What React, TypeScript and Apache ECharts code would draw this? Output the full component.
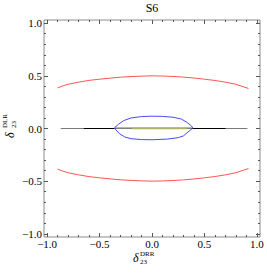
import React, { useEffect, useRef } from "react";
import * as echarts from "echarts";

const majorTicks = [-1, -0.5, 0, 0.5, 1];
const minorTicks = [-0.9, -0.8, -0.7, -0.6, -0.4, -0.3, -0.2, -0.1, 0.1, 0.2, 0.3, 0.4, 0.6, 0.7, 0.8, 0.9];

const redX = [-0.9, -0.85, -0.8, -0.7, -0.6, -0.5, -0.4, -0.3, -0.2, -0.1, 0, 0.1, 0.2, 0.3, 0.4, 0.5, 0.6, 0.7, 0.8, 0.85, 0.92];
const redUpperY = [0.385, 0.405, 0.42, 0.44, 0.457, 0.468, 0.478, 0.487, 0.493, 0.497, 0.5, 0.498, 0.494, 0.488, 0.479, 0.468, 0.456, 0.44, 0.42, 0.403, 0.38];
const redLowerY = [-0.385, -0.405, -0.42, -0.44, -0.457, -0.468, -0.478, -0.487, -0.493, -0.497, -0.5, -0.498, -0.494, -0.488, -0.479, -0.468, -0.456, -0.44, -0.42, -0.403, -0.38];

const blueX = [-0.36, -0.32, -0.27, -0.2, -0.1, 0, 0.1, 0.2, 0.28, 0.33, 0.37, 0.39, 0.36, 0.3, 0.25, 0.15, 0, -0.1, -0.2, -0.26, -0.31, -0.36];
const blueY = [0.005, 0.04, 0.075, 0.1, 0.113, 0.117, 0.115, 0.107, 0.09, 0.06, 0.03, 0.005, -0.02, -0.07, -0.087, -0.1, -0.107, -0.105, -0.097, -0.08, -0.05, 0.005];

const grayFullX = [-0.87, 0.91];
const grayFullY = [0, 0];
const blackLeftX = [-0.65, -0.35];
const blackRightX = [0.38, 0.7];
const blackY = [0, 0];
const grayInnerX = [-0.35, 0.38];
const grayInnerY = [0.006, 0.006];
const yellowX = [-0.19, 0.33];
const yellowY = [-0.005, -0.005];

const pts = (xs: number[], ys: number[]) => xs.map((x, i) => [x, ys[i]]);

const SERIF = "'Liberation Serif', 'DejaVu Serif', serif";
const fmt = (v: number) => (v < 0 ? "\u2212" + Math.abs(v).toFixed(1) : v.toFixed(1));

export default function App() {
  const ref = useRef<HTMLDivElement>(null);
  useEffect(() => {
    if (!ref.current) return;
    const chart = echarts.init(ref.current, undefined, { renderer: "svg" });
    const range = { min: -1.03, max: 1.03 };
    const tickColor = "#555";
    const mkX = (position: string, major: boolean, labels: boolean) => ({
      type: "value",
      ...range,
      position,
      axisLine: { show: false, onZero: false },
      splitLine: { show: false },
      axisTick: {
        show: true,
        inside: true,
        length: major ? 4 : 2,
        customValues: major ? majorTicks : minorTicks,
        lineStyle: { color: tickColor, width: 1 },
      },
      axisLabel: labels
        ? { show: true, customValues: majorTicks, formatter: fmt, fontFamily: SERIF, fontSize: 11, lineHeight: 10, color: "#000", margin: 2 }
        : { show: false },
    });
    const series = (data: number[][], color: string, z = 2) => ({
      type: "line",
      data,
      showSymbol: false,
      symbol: "none",
      xAxisIndex: 0,
      yAxisIndex: 0,
      lineStyle: { color, width: 1 },
      z,
    });
    chart.setOption({
      animation: false,
      grid: { left: 44, right: 7, top: 20, bottom: 36, show: true, borderColor: "#8a8a8a", borderWidth: 1 },
      xAxis: [mkX("bottom", true, true), mkX("bottom", false, false), mkX("top", true, false), mkX("top", false, false)],
      yAxis: [mkX("left", true, true), mkX("left", false, false), mkX("right", true, false), mkX("right", false, false)],
      series: [
        series(pts(redX, redUpperY), "#ff5555"),
        series(pts(redX, redLowerY), "#ff5555"),
        series(pts(grayFullX, grayFullY), "#7a7a7a"),
        series(pts(blackLeftX, blackY), "#000000", 3),
        series(pts(blackRightX, blackY), "#000000", 3),
        series(pts(grayInnerX, grayInnerY), "#8c8c8c", 3),
        series(pts(yellowX, yellowY), "#d8ec50", 4),
        series(pts(blueX, blueY), "#4a4af5", 5),
      ],
      graphic: [
        { type: "text", x: 152, y: 2, style: { text: "S6", textAlign: "center", fontSize: 12, fontFamily: SERIF, fill: "#000" } },
        { type: "text", x: 133, y: 252, style: { text: "\u03b4", fontSize: 12, fontFamily: SERIF, fontStyle: "italic", fill: "#000" } },
        { type: "text", x: 140, y: 250, style: { text: "DRR", fontSize: 7, fontFamily: SERIF, fill: "#000" } },
        { type: "text", x: 140, y: 258, style: { text: "23", fontSize: 7, fontFamily: SERIF, fill: "#000" } },
        { type: "text", x: 4, y: 138, rotation: Math.PI / 2, style: { text: "\u03b4", fontSize: 12, fontFamily: SERIF, fontStyle: "italic", fill: "#000" } },
        { type: "text", x: 1, y: 128, rotation: Math.PI / 2, style: { text: "DLR", fontSize: 7, fontFamily: SERIF, fill: "#000" } },
        { type: "text", x: 10, y: 128, rotation: Math.PI / 2, style: { text: "23", fontSize: 7, fontFamily: SERIF, fill: "#000" } },
      ],
    });
    return () => chart.dispose();
  }, []);
  return <div ref={ref} style={{ position: "absolute", left: 0, top: 0, width: 267, height: 273 }} />;
}
